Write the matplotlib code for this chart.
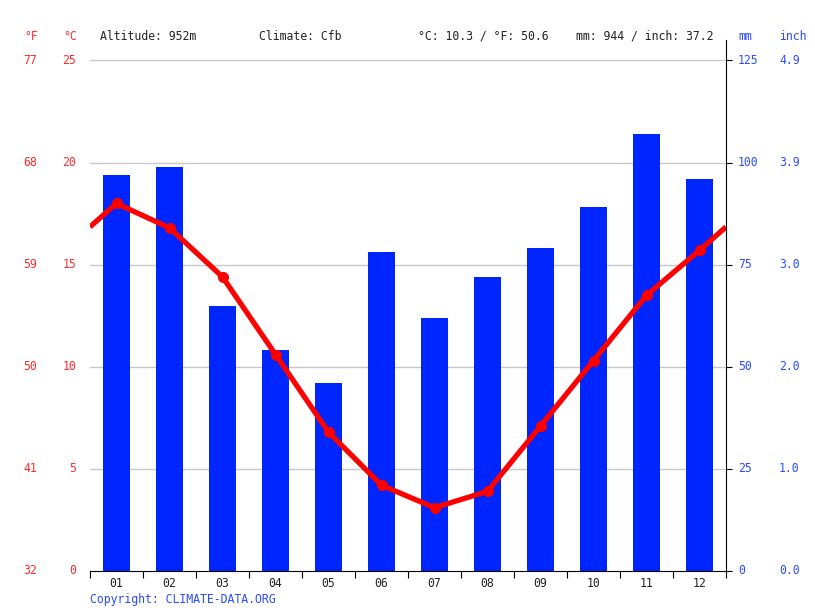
import matplotlib.pyplot as plt
import matplotlib.transforms as mtransforms

months = ['01', '02', '03', '04', '05', '06', '07', '08', '09', '10', '11', '12']
precip_mm = [97, 99, 65, 54, 46, 78, 62, 72, 79, 89, 107, 96]
temp_c = [18.0, 16.8, 14.4, 10.6, 6.8, 4.2, 3.1, 3.9, 7.1, 10.3, 13.5, 15.7]
c_ticks = [0, 5, 10, 15, 20, 25]
f_labels = ['32', '41', '50', '59', '68', '77']
mm_labels = ['0', '25', '50', '75', '100', '125']
inch_labels = ['0.0', '1.0', '2.0', '3.0', '3.9', '4.9']

red = '#ff0000'
red_txt = '#ff2a2a'
blue = '#0026ff'
blue_txt = '#2a4bff'
plt.rcParams['font.family'] = ['DejaVu Sans Mono']
fs = 8.3

W, H = 815, 611
fig = plt.figure(figsize=(W / 100, H / 100), dpi=100)
left, right, top, bottom = 90, 726, 40, 571
ax = fig.add_axes([left / W, 1 - bottom / H, (right - left) / W, (bottom - top) / H])

# precipitation scaled to temperature axis: 125 mm == 25 C
scale = 25 / 125
xs = [i + 0.5 for i in range(12)]
ax.bar(xs, [p * scale for p in precip_mm], width=0.5, color=blue, zorder=2)

# temperature line, extended to edges with wrap-around
edge = (temp_c[0] + temp_c[-1]) / 2
ax.plot([0] + xs + [12], [edge] + temp_c + [edge], color=red, lw=3.8, zorder=3,
        solid_capstyle='butt')
ax.plot(xs, temp_c, 'o', color=red, ms=7, zorder=4)

ax.set_xlim(0, 12)
ax.set_ylim(0, 26)
for y in c_ticks[1:]:
    ax.axhline(y, color='#c8c8c8', lw=1, zorder=1)

for s in ['left', 'top']:
    ax.spines[s].set_visible(False)
ax.spines['right'].set_color('black')
ax.spines['bottom'].set_color('black')
ax.set_xticks(range(13))
ax.set_xticklabels([])
ax.set_xticks(xs, minor=True)
ax.set_xticklabels(months, minor=True, fontsize=fs, color='#222222')
ax.tick_params(axis='x', which='major', length=5, direction='out')
ax.tick_params(axis='x', which='minor', length=0, pad=4)
ax.set_yticks(c_ticks)
ax.yaxis.tick_right()
ax.set_yticklabels([])
ax.tick_params(axis='y', length=4, direction='out')

tr = mtransforms.blended_transform_factory(fig.transFigure, ax.transData)
for y, fl, ml, il in zip(c_ticks, f_labels, mm_labels, inch_labels):
    fig.text(30 / W, y, fl, transform=tr, color=red_txt, fontsize=fs, ha='center', va='center')
    fig.text(76 / W, y, str(y), transform=tr, color=red_txt, fontsize=fs, ha='right', va='center')
    fig.text(738 / W, y, ml, transform=tr, color=blue_txt, fontsize=fs, ha='left', va='center')
    fig.text(779 / W, y, il, transform=tr, color=blue_txt, fontsize=fs, ha='left', va='center')

hy = 1 - 36 / H
fig.text(31 / W, hy, '°F', color=red_txt, fontsize=fs, ha='center', va='center')
fig.text(70 / W, hy, '°C', color=red_txt, fontsize=fs, ha='center', va='center')
fig.text(100 / W, hy, 'Altitude: 952m', color='#222222', fontsize=fs, va='center')
fig.text(259 / W, hy, 'Climate: Cfb', color='#222222', fontsize=fs, va='center')
fig.text(418 / W, hy, '°C: 10.3 / °F: 50.6', color='#222222', fontsize=fs, va='center')
fig.text(576 / W, hy, 'mm: 944 / inch: 37.2', color='#222222', fontsize=fs, va='center')
fig.text(738 / W, hy, 'mm', color=blue_txt, fontsize=fs, va='center')
fig.text(779 / W, hy, 'inch', color=blue_txt, fontsize=fs, va='center')
fig.text(90 / W, 1 - 599 / H, 'Copyright: CLIMATE-DATA.ORG', color=blue_txt, fontsize=fs, va='center')

fig.savefig('out.png', dpi=100, facecolor='white')
